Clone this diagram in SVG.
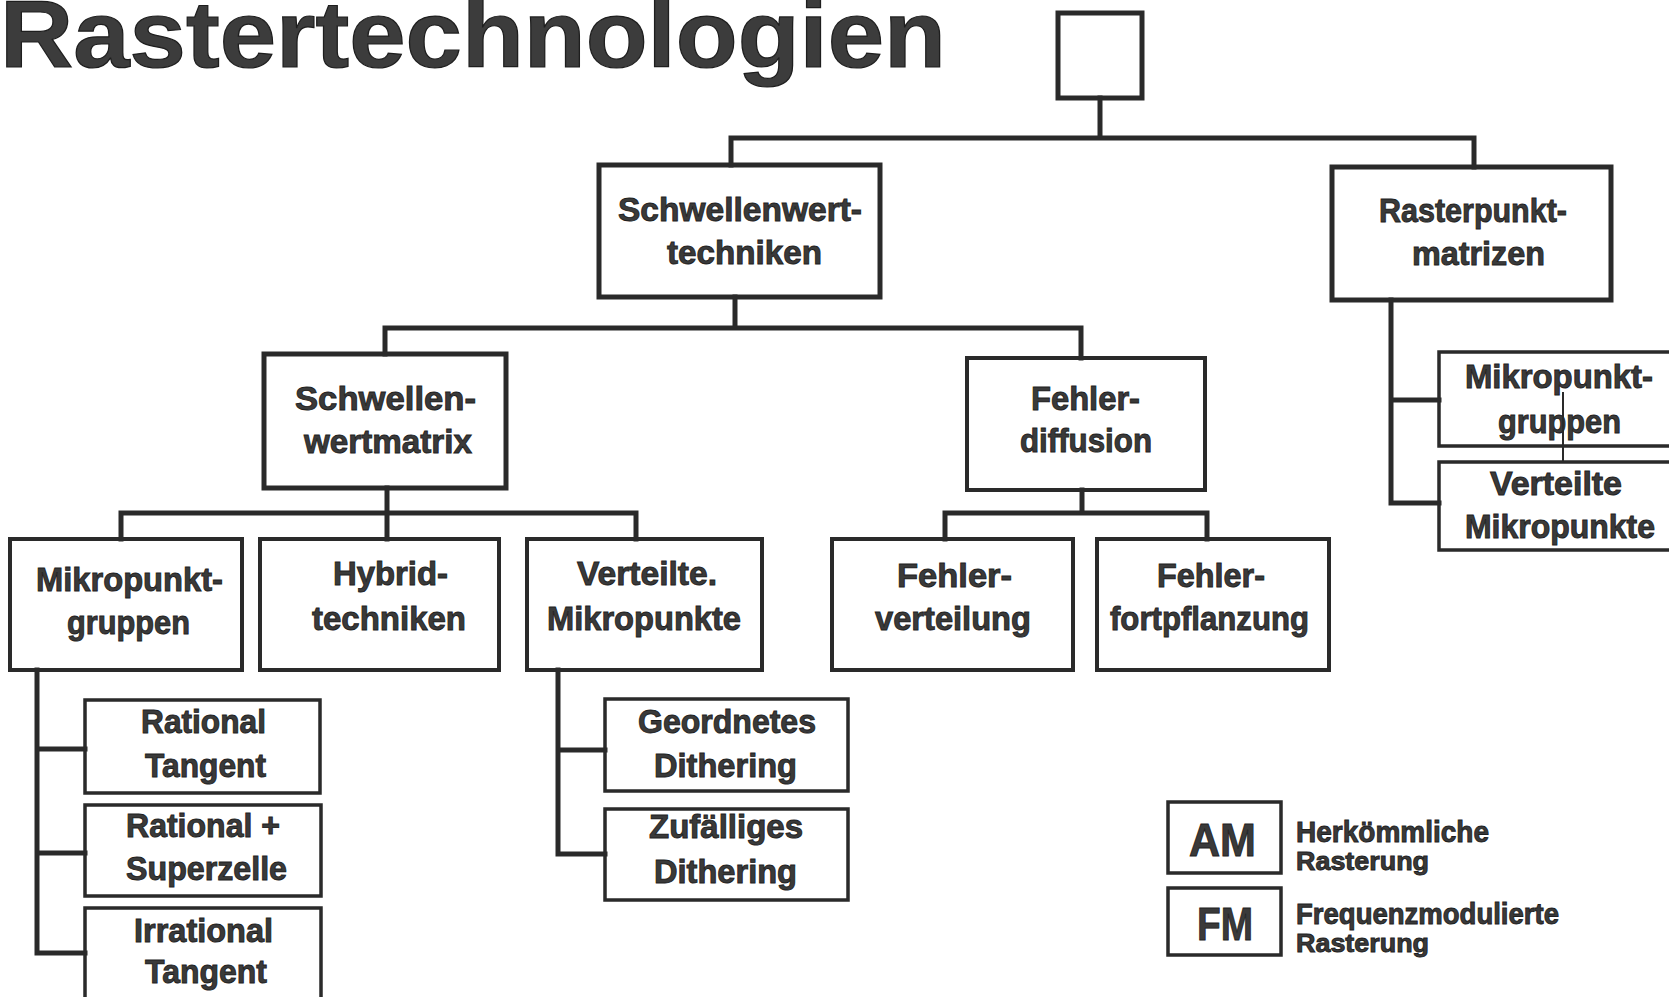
<svg xmlns="http://www.w3.org/2000/svg" width="1669" height="997" viewBox="0 0 1669 997">
  <style>
    .box { fill: #ffffff; stroke: #2a2a2a; stroke-width: 4; }
    .box-h { fill: #ffffff; stroke: #2a2a2a; stroke-width: 5; }
    .box-s { fill: #ffffff; stroke: #2a2a2a; stroke-width: 3.5; }
    .ln { fill: none; stroke: #2a2a2a; stroke-width: 5; stroke-linecap: square; }
    .ln-thin { fill: none; stroke: #2a2a2a; stroke-width: 2; }
    .t { font-family: "Liberation Sans", Arial, sans-serif; font-weight: bold; fill: #3a3a3a; stroke: #1e1e1e; stroke-width: 0.9; font-size: 34px; }
    .t4 { font-size: 33px; }
    .lg { font-size: 29px; }
    .lg2 { font-size: 26px; }
    .title { font-family: "Liberation Sans", Arial, sans-serif; font-weight: bold; fill: #3c3c3c; stroke: #1e1e1e; stroke-width: 1.2; font-size: 94px; }
  </style>

  <rect x="0" y="0" width="1669" height="997" fill="#ffffff"/>

  <!-- heading -->
  <text class="title" x="0" y="67" textLength="946" lengthAdjust="spacingAndGlyphs">Rastertechnologien</text>

  <!-- root -->
  <g id="root">
    <rect class="box-h" x="1058" y="13" width="84" height="85"/>
  </g>

  <!-- level 1 -->
  <g id="schwellenwerttechniken">
    <rect class="box-h" x="599" y="165" width="281" height="132"/>
    <text class="t" x="618" y="221" textLength="244" lengthAdjust="spacingAndGlyphs">Schwellenwert-</text>
    <text class="t" x="667" y="264" textLength="155" lengthAdjust="spacingAndGlyphs">techniken</text>
  </g>
  <g id="rasterpunktmatrizen">
    <rect class="box-h" x="1332" y="167" width="279" height="133"/>
    <text class="t" x="1379" y="222" textLength="188" lengthAdjust="spacingAndGlyphs">Rasterpunkt-</text>
    <text class="t" x="1412" y="265" textLength="133" lengthAdjust="spacingAndGlyphs">matrizen</text>
  </g>

  <!-- level 2 -->
  <g id="schwellenwertmatrix">
    <rect class="box-h" x="264" y="354" width="242" height="134"/>
    <text class="t" x="295" y="410" textLength="181" lengthAdjust="spacingAndGlyphs">Schwellen-</text>
    <text class="t" x="304" y="453" textLength="168" lengthAdjust="spacingAndGlyphs">wertmatrix</text>
  </g>
  <g id="fehlerdiffusion">
    <rect class="box" x="967" y="358" width="238" height="132"/>
    <text class="t" x="1031" y="410" textLength="109" lengthAdjust="spacingAndGlyphs">Fehler-</text>
    <text class="t" x="1020" y="452" textLength="132" lengthAdjust="spacingAndGlyphs">diffusion</text>
  </g>

  <!-- level 3 -->
  <g id="mikropunktgruppen">
    <rect class="box" x="10" y="539" width="232" height="131"/>
    <text class="t" x="36" y="591" textLength="187" lengthAdjust="spacingAndGlyphs">Mikropunkt-</text>
    <text class="t" x="67" y="634" textLength="123" lengthAdjust="spacingAndGlyphs">gruppen</text>
  </g>
  <g id="hybridtechniken">
    <rect class="box" x="260" y="539" width="239" height="131"/>
    <text class="t" x="333" y="585" textLength="115" lengthAdjust="spacingAndGlyphs">Hybrid-</text>
    <text class="t" x="312" y="630" textLength="154" lengthAdjust="spacingAndGlyphs">techniken</text>
  </g>
  <g id="verteilte-mikropunkte">
    <rect class="box" x="527" y="539" width="235" height="131"/>
    <text class="t" x="577" y="585" textLength="140" lengthAdjust="spacingAndGlyphs">Verteilte.</text>
    <text class="t" x="547" y="630" textLength="194" lengthAdjust="spacingAndGlyphs">Mikropunkte</text>
  </g>
  <g id="fehlerverteilung">
    <rect class="box" x="832" y="539" width="241" height="131"/>
    <text class="t" x="897" y="587" textLength="115" lengthAdjust="spacingAndGlyphs">Fehler-</text>
    <text class="t" x="875" y="630" textLength="156" lengthAdjust="spacingAndGlyphs">verteilung</text>
  </g>
  <g id="fehlerfortpflanzung">
    <rect class="box" x="1097" y="539" width="232" height="131"/>
    <text class="t" x="1157" y="587" textLength="108" lengthAdjust="spacingAndGlyphs">Fehler-</text>
    <text class="t" x="1110" y="630" textLength="199" lengthAdjust="spacingAndGlyphs">fortpflanzung</text>
  </g>

  <!-- level 4: under Mikropunktgruppen -->
  <g id="rational-tangent">
    <rect class="box-s" x="85" y="700" width="235" height="93"/>
    <text class="t t4" x="141" y="733" textLength="125" lengthAdjust="spacingAndGlyphs">Rational</text>
    <text class="t t4" x="145" y="777" textLength="121" lengthAdjust="spacingAndGlyphs">Tangent</text>
  </g>
  <g id="rational-superzelle">
    <rect class="box-s" x="85" y="805" width="236" height="91"/>
    <text class="t t4" x="126" y="837" textLength="154" lengthAdjust="spacingAndGlyphs">Rational +</text>
    <text class="t t4" x="126" y="880" textLength="161" lengthAdjust="spacingAndGlyphs">Superzelle</text>
  </g>
  <g id="irrational-tangent">
    <rect class="box-s" x="85" y="908" width="236" height="110"/>
    <text class="t t4" x="134" y="942" textLength="139" lengthAdjust="spacingAndGlyphs">Irrational</text>
    <text class="t t4" x="145" y="983" textLength="122" lengthAdjust="spacingAndGlyphs">Tangent</text>
  </g>

  <!-- level 4: under Verteilte Mikropunkte -->
  <g id="geordnetes-dithering">
    <rect class="box-s" x="605" y="699" width="243" height="92"/>
    <text class="t t4" x="638" y="733" textLength="178" lengthAdjust="spacingAndGlyphs">Geordnetes</text>
    <text class="t t4" x="654" y="777" textLength="143" lengthAdjust="spacingAndGlyphs">Dithering</text>
  </g>
  <g id="zufaelliges-dithering">
    <rect class="box-s" x="605" y="809" width="243" height="91"/>
    <text class="t t4" x="649" y="838" textLength="154" lengthAdjust="spacingAndGlyphs">Zufälliges</text>
    <text class="t t4" x="654" y="883" textLength="143" lengthAdjust="spacingAndGlyphs">Dithering</text>
  </g>

  <!-- under Rasterpunktmatrizen -->
  <g id="rp-mikropunktgruppen">
    <rect class="box-s" x="1439" y="352" width="250" height="94"/>
    <text class="t t4" x="1465" y="388" textLength="188" lengthAdjust="spacingAndGlyphs">Mikropunkt-</text>
    <text class="t t4" x="1498" y="433" textLength="123" lengthAdjust="spacingAndGlyphs">gruppen</text>
  </g>
  <g id="rp-verteilte-mikropunkte">
    <rect class="box-s" x="1439" y="462" width="250" height="88"/>
    <text class="t t4" x="1490" y="495" textLength="132" lengthAdjust="spacingAndGlyphs">Verteilte</text>
    <text class="t t4" x="1465" y="538" textLength="190" lengthAdjust="spacingAndGlyphs">Mikropunkte</text>
  </g>

  <!-- legend -->
  <g id="legend-am">
    <rect class="box-s" x="1168" y="802" width="113" height="71"/>
    <text class="t" x="1189" y="856" style="font-size:46px" textLength="67" lengthAdjust="spacingAndGlyphs">AM</text>
    <text class="t lg" x="1296" y="842" textLength="193" lengthAdjust="spacingAndGlyphs">Herkömmliche</text>
    <text class="t lg2" x="1296" y="870" textLength="133" lengthAdjust="spacingAndGlyphs">Rasterung</text>
  </g>
  <g id="legend-fm">
    <rect class="box-s" x="1168" y="888" width="113" height="67"/>
    <text class="t" x="1197" y="940" style="font-size:46px" textLength="56" lengthAdjust="spacingAndGlyphs">FM</text>
    <text class="t lg" x="1296" y="924" textLength="263" lengthAdjust="spacingAndGlyphs">Frequenzmodulierte</text>
    <text class="t lg2" x="1296" y="952" textLength="133" lengthAdjust="spacingAndGlyphs">Rasterung</text>
  </g>

  <!-- connectors, drawn over the node backgrounds -->
  <g id="connectors">
    <path class="ln" d="M1100 98 V138 M731 138 H1474 M731 138 V165 M1474 138 V167"/>
    <path class="ln" d="M735 297 V328 M385 328 H1081 M385 328 V354 M1081 328 V358"/>
    <path class="ln" d="M387 488 V513 M121 513 H636 M121 513 V539 M387 513 V539 M636 513 V539"/>
    <path class="ln" d="M1082 490 V513 M945 513 H1207 M945 513 V539 M1207 513 V539"/>
    <path class="ln" d="M37 670 V953 M37 749 H85 M37 853 H85 M37 953 H85"/>
    <path class="ln" d="M558 670 V854 M558 750 H605 M558 854 H605"/>
    <path class="ln" d="M1391 300 V503 M1391 400 H1439 M1391 503 H1439"/>
    <path class="ln-thin" d="M1563 392 V463"/>
  </g>
</svg>
